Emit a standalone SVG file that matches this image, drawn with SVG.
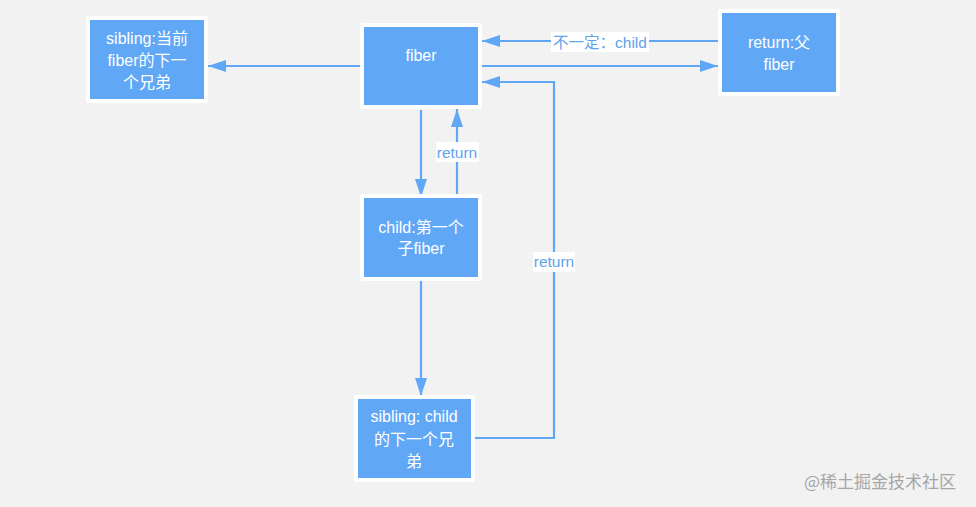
<svg xmlns="http://www.w3.org/2000/svg" width="976" height="507" viewBox="0 0 976 507">
<defs>
<style>
.box{fill:#60a8f6;stroke:#ffffff;stroke-width:4;stroke-linejoin:round}
.bt{fill:#ffffff;font-family:"Liberation Sans","Noto Sans CJK SC",sans-serif;font-size:16px;text-anchor:middle}
.ln{fill:none;stroke:#60a8f6;stroke-width:2.2}
.lb{fill:#5fa3ec;font-family:"Liberation Sans","Noto Sans CJK SC",sans-serif;font-size:15.5px;text-anchor:middle}
.lbg{fill:#ffffff}
</style>
<marker id="ah2" viewBox="0 0 18 12" refX="18" refY="6" markerWidth="18" markerHeight="12" markerUnits="userSpaceOnUse" orient="auto">
<path d="M0,0 L18,6 L0,12 z" fill="#60a8f6"/>
</marker>
</defs>
<rect width="976" height="507" fill="#f2f2f2"/>
<g id="connectors">
<path class="ln" d="M360,66 L208,66" marker-end="url(#ah2)"/>
<path class="ln" d="M718,41 L482,41" marker-end="url(#ah2)"/>
<path class="ln" d="M482,66 L718,66" marker-end="url(#ah2)"/>
<path class="ln" d="M472,438 L554,438 L554,82 L482,82" marker-end="url(#ah2)"/>
<path class="ln" d="M421,110 L421,197" marker-end="url(#ah2)"/>
<path class="ln" d="M457,196 L457,109" marker-end="url(#ah2)"/>
<path class="ln" d="M421,281 L421,396" marker-end="url(#ah2)"/>
<rect class="lbg" x="551" y="32" width="98" height="20"/>
<text class="lb" x="600" y="47.5">不一定：child</text>
<rect class="lbg" x="436" y="142" width="43" height="20"/>
<text class="lb" x="457" y="157.5">return</text>
<rect class="lbg" x="533" y="252" width="42" height="20"/>
<text class="lb" x="554" y="267">return</text>
</g>
<g id="node-sibling">
<rect class="box" x="88" y="18" width="118" height="83"/>
<text class="bt" x="147" y="44">sibling:当前</text>
<text class="bt" x="147" y="66">fiber的下一</text>
<text class="bt" x="147" y="88">个兄弟</text>
</g>
<g id="node-fiber">
<rect class="box" x="362" y="25" width="118" height="82"/>
<text class="bt" x="421" y="61">fiber</text>
</g>
<g id="node-return">
<rect class="box" x="720" y="11" width="118" height="83"/>
<text class="bt" x="779" y="48">return:父</text>
<text class="bt" x="779" y="70">fiber</text>
</g>
<g id="node-child">
<rect class="box" x="362" y="196" width="118" height="83"/>
<text class="bt" x="421" y="233">child:第一个</text>
<text class="bt" x="421" y="254">子fiber</text>
</g>
<g id="node-sibling-child">
<rect class="box" x="356" y="397" width="117" height="83"/>
<text class="bt" x="414" y="422">sibling: child</text>
<text class="bt" x="414" y="445">的下一个兄</text>
<text class="bt" x="414" y="467">弟</text>
</g>
<text x="880" y="488" fill="#a6a6a6" font-family="'Noto Sans CJK SC','Liberation Sans',sans-serif" font-size="17" text-anchor="middle">@稀土掘金技术社区</text>
</svg>
